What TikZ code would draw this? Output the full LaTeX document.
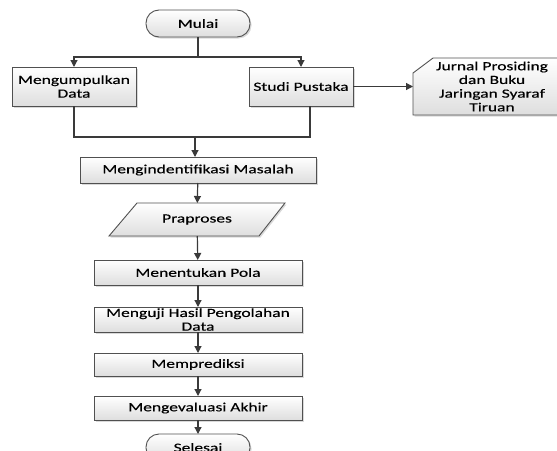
\documentclass[tikz,border=0pt]{standalone}
\usepackage{fontspec}
\setmainfont{Carlito}[FakeStretch=1.4,FakeBold=0.3]
\usetikzlibrary{shadows,calc,backgrounds,arrows.meta}
\definecolor{linec}{RGB}{58,58,58}
\definecolor{bordc}{RGB}{80,80,80}
\definecolor{fillb}{RGB}{222,222,222}
\tikzset{
 base/.style={draw=bordc, line width=0.9pt, top color=white, bottom color=fillb,
   drop shadow={shadow xshift=1.5pt,shadow yshift=-1.5pt,opacity=0.3},
   align=center, inner sep=1pt, outer sep=0pt, text=black},
 proc/.style={base, rectangle},
 term/.style={base, rectangle, rounded corners=13pt, minimum width=104pt, minimum height=27pt},
 bare/.style={rectangle, align=center, inner sep=1pt, outer sep=0pt, text=black},
 arr/.style={draw=linec, line width=1.2pt, -{Triangle[length=7pt,width=7pt]}},
 ln/.style={draw=linec, line width=1.2pt},
}
\begin{document}
\begin{tikzpicture}[x=1pt,y=1pt,font=\fontsize{12.5}{13.7}\selectfont]
\useasboundingbox (0,0) rectangle (557,-450);
\node[term] (mulai) at (198,-23.5) {Mulai};
\node[proc, minimum width=124pt, minimum height=39pt] (kumpul) at (74,-86.5) {Mengumpulkan\\Data};
\node[proc, minimum width=104pt, minimum height=39pt] (studi) at (301,-86.5) {Studi Pustaka};
\node[bare, minimum width=158pt, minimum height=57pt] (jurnal) at (492,-86.5) {Jurnal Prosiding\\dan Buku\\Jaringan Syaraf\\Tiruan};
\node[proc, minimum width=236pt, minimum height=26pt] (ident) at (198,-170) {Mengindentifikasi Masalah};
\node[bare, minimum width=176pt, minimum height=33pt] (prap) at (197,-219.5) {Praproses};
\node[proc, minimum width=208pt, minimum height=25pt] (pola) at (198,-272.5) {Menentukan Pola};
\node[proc, minimum width=208pt, minimum height=25pt] (uji) at (198,-319.5) {Menguji Hasil Pengolahan\\Data};
\node[proc, minimum width=208pt, minimum height=23pt] (prediksi) at (198,-364.5) {Memprediksi};
\node[proc, minimum width=208pt, minimum height=24pt] (evaluasi) at (198,-408) {Mengevaluasi Akhir};
\node[term] (selesai) at (198,-447.5) {Selesai};
\begin{scope}[on background layer]
\path[base] (jurnal.south west) -- ($(jurnal.north west)+(0,-15)$) -- ($(jurnal.north west)+(20,0)$) -- (jurnal.north east) -- (jurnal.south east) -- cycle;
\path[base] (prap.south west) -- ($(prap.north west)+(28,0)$) -- (prap.north east) -- ($(prap.south east)+(-26,0)$) -- cycle;
\end{scope}
\coordinate (split) at (198,-57);
\coordinate (join) at (195,-137);
\draw[ln] (mulai) -- (split);
\draw[arr] (split) -| (kumpul);
\draw[arr] (split) -| (studi);
\draw[arr] (studi.east) -- (jurnal.west);
\draw[ln] (kumpul.south) |- (join);
\draw[ln] ([xshift=9pt]studi.south) |- (join);
\draw[arr] (join) -- (join |- ident.north);
\draw[arr] (ident) -- (prap);
\draw[arr] (prap) -- (pola);
\draw[arr] (pola) -- (uji);
\draw[arr] (uji) -- (prediksi);
\draw[arr] (prediksi) -- (evaluasi);
\draw[arr] (evaluasi) -- (selesai);
\end{tikzpicture}
\end{document}
